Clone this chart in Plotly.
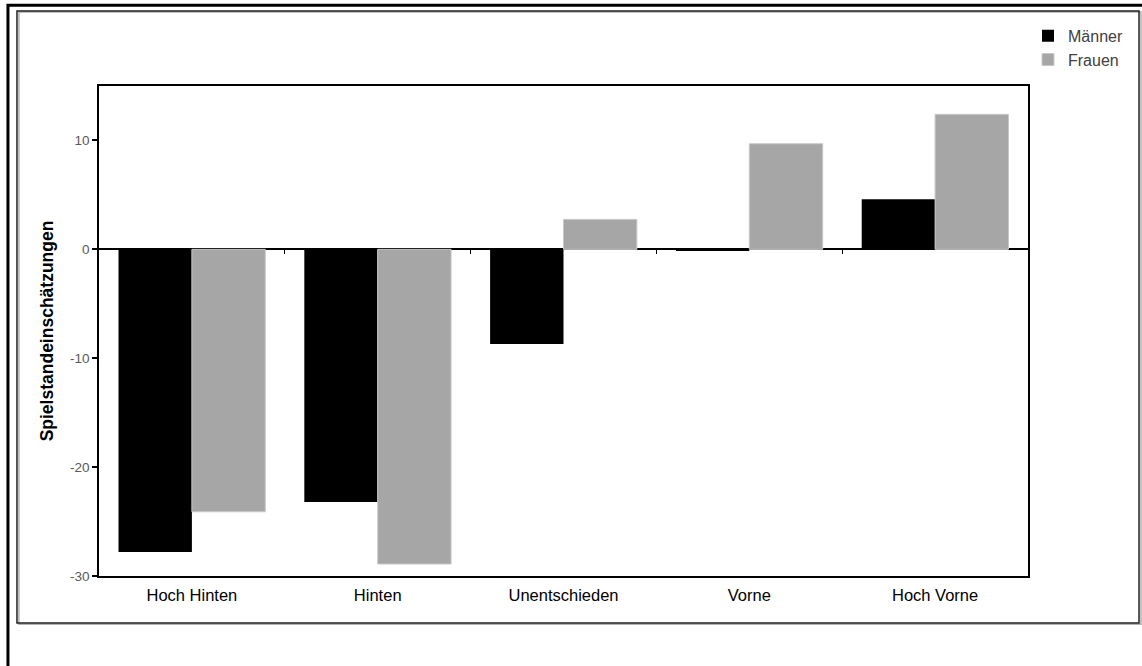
import plotly.graph_objects as go

categories = ["Hoch Hinten", "Hinten", "Unentschieden", "Vorne", "Hoch Vorne"]
maenner = [-27.8, -23.2, -8.7, -0.15, 4.6]
frauen = [-24.1, -28.9, 2.75, 9.7, 12.4]
y_ticks = [10, 0, -10, -20, -30]
y_ticklabels = ["10", "0", "-10", "-20", "-30"]

fig = go.Figure()
fig.add_trace(go.Bar(name="Männer", x=categories, y=maenner,
                     marker=dict(color="#000000", line=dict(width=0))))
fig.add_trace(go.Bar(name="Frauen", x=categories, y=frauen,
                     marker=dict(color="#a6a6a6", line=dict(color="#c8c8c8", width=1))))
# invisible trace to keep the secondary x-axis (zero-line tick marks) drawn
fig.add_trace(go.Scatter(x=[0.5], y=[0], xaxis="x2", yaxis="y", mode="markers",
                         marker=dict(opacity=0), showlegend=False, hoverinfo="skip"))

fig.update_layout(
    width=1142, height=666,
    margin=dict(l=99, r=114, t=86, b=90),
    paper_bgcolor="white", plot_bgcolor="white",
    font=dict(family="Liberation Sans, Arial, sans-serif", color="#000000"),
    barmode="group", bargap=0.21, bargroupgap=0,
    showlegend=True,
    legend=dict(x=1.0, y=1.137, xanchor="left", yanchor="top",
                font=dict(size=16, color="#404040"), bgcolor="rgba(0,0,0,0)",
                itemwidth=30, tracegroupgap=2),
    xaxis=dict(range=[-0.5, 4.5], showline=True, linecolor="#000", linewidth=1.5,
               mirror=True, ticks="", showgrid=False, zeroline=False,
               tickfont=dict(size=16.5, color="#000"), ticklabelstandoff=3),
    xaxis2=dict(overlaying="x", range=[-0.5, 4.5], anchor="free", position=2/3,
                tickvals=[0.5, 1.5, 2.5, 3.5], ticks="outside", ticklen=4,
                tickcolor="#000", tickwidth=1, showticklabels=False,
                showline=False, showgrid=False, zeroline=False),
    yaxis=dict(range=[-30, 15], tickvals=y_ticks, ticktext=y_ticklabels,
               ticks="outside", ticklen=5, tickwidth=1.5, tickcolor="#000",
               showline=True, linecolor="#000", linewidth=1.5, mirror=True,
               showgrid=False, zeroline=True, zerolinecolor="#000", zerolinewidth=1.5,
               tickfont=dict(size=13.5, color="#595959"),
               title=dict(text="<b>Spielstandeinschätzungen</b>",
                          font=dict(size=17.5, color="#000"), standoff=12)),
    shapes=[
        dict(type="rect", xref="paper", yref="paper", x0=-0.098, x1=1.3, y0=-0.4, y1=1.165,
             line=dict(color="#000", width=3), layer="below"),
        dict(type="rect", xref="paper", yref="paper", x0=-0.0862, x1=1.1216, y0=-0.0985, y1=1.151,
             line=dict(color="#b0b0b0", width=1.5), layer="below"),
        dict(type="rect", xref="paper", yref="paper", x0=-0.0883, x1=1.1195, y0=-0.0959, y1=1.153,
             line=dict(color="#222", width=1.5), layer="below"),
    ],
)

fig.write_html("out.html", config={"displayModeBar": False},
               post_script="document.body.style.margin='0';document.body.style.overflow='hidden';")
